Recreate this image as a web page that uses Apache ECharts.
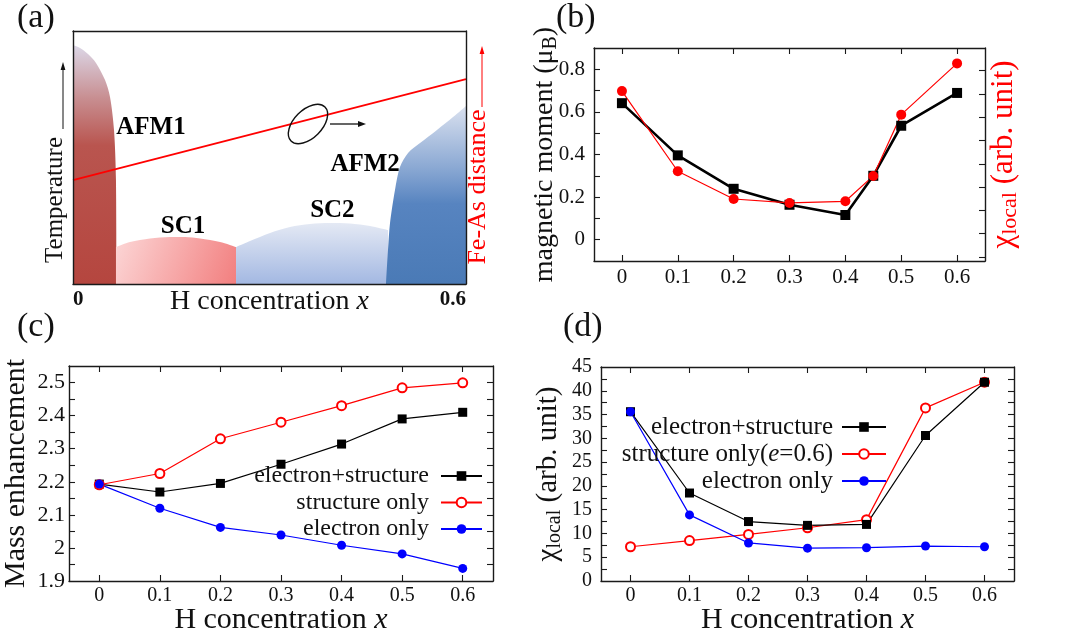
<!DOCTYPE html>
<html><head><meta charset="utf-8">
<script src="https://cdn.jsdelivr.net/npm/echarts@6/dist/echarts.min.js"></script>
<style>html,body{margin:0;padding:0;background:#fff}#c{width:1073px;height:640px}</style>
</head><body><div id="c"></div>
<script>
// ---------- Panel (a): schematic phase diagram (x = H concentration, y = relative temperature) ----------
const afm1X = [0, 0.0107, 0.0229, 0.0351, 0.0489, 0.0565, 0.0626, 0.0656, 0.0664];
const afm1Y = [0.945, 0.933, 0.909, 0.874, 0.806, 0.739, 0.609, 0.411, 0];
const sc1X = [0.0656, 0.087, 0.1176, 0.148, 0.1710, 0.1940, 0.2245, 0.2489];
const sc1Y = [0.146, 0.166, 0.180, 0.186, 0.186, 0.180, 0.166, 0.146];
const sc2X = [0.2489, 0.2702, 0.3008, 0.3313, 0.3618, 0.3924, 0.4229, 0.4534, 0.4809];
const sc2Y = [0.146, 0.170, 0.202, 0.225, 0.237, 0.241, 0.239, 0.229, 0.213];
const afm2X = [0.4779, 0.4809, 0.4840, 0.4916, 0.4992, 0.5115, 0.5298, 0.5557, 0.5802, 0.6];
const afm2Y = [0, 0.134, 0.241, 0.372, 0.462, 0.518, 0.557, 0.609, 0.660, 0.704];
const feAsX = [0, 0.6];
const feAsY = [0.411, 0.810];
const phaseNames = ['AFM1', 'SC1', 'SC2', 'AFM2'];
const phaseX = [0.119, 0.168, 0.396, 0.446];
const phaseY = [0.617, 0.227, 0.289, 0.474];

// ---------- Panel (b) ----------
const xB = [0, 0.1, 0.2, 0.3, 0.4, 0.45, 0.5, 0.6];
const momentB = [0.641, 0.396, 0.239, 0.164, 0.116, 0.30, 0.535, 0.689];
const chiLocalB = [7.12, 3.68, 2.49, 2.32, 2.39, 3.48, 6.11, 8.31];

// ---------- Panel (c) ----------
const xC = [0, 0.1, 0.2, 0.3, 0.4, 0.5, 0.6];
const massElecStruct = [2.193, 2.169, 2.195, 2.253, 2.314, 2.390, 2.410];
const massStruct = [2.191, 2.225, 2.330, 2.380, 2.430, 2.484, 2.499];
const massElec = [2.193, 2.120, 2.062, 2.039, 2.008, 1.982, 1.938];

// ---------- Panel (d) ----------
const xD = [0, 0.1, 0.2, 0.3, 0.4, 0.5, 0.6];
const chiElecStruct = [35.6, 18.5, 12.5, 11.7, 11.9, 30.6, 41.8];
const chiStruct = [7.2, 8.5, 9.8, 11.2, 12.9, 36.4, 41.8];
const chiElec = [35.6, 13.9, 8.0, 6.9, 7.0, 7.35, 7.2];

// ---------- tick values ----------
const xTicks = [0, 0.1, 0.2, 0.3, 0.4, 0.5, 0.6];
const aTicks = [0, 0.6];
const bYLabels = [0, 0.2, 0.4, 0.6, 0.8];
const bYTicks = [0, 0.1, 0.2, 0.3, 0.4, 0.5, 0.6, 0.7, 0.8];
const bRTicks = [0, 1, 2, 3, 4, 5, 6, 7, 8];
const cYLabels = [1.9, 2.0, 2.1, 2.2, 2.3, 2.4, 2.5];
const cYTicks = [1.95, 2.0, 2.05, 2.1, 2.15, 2.2, 2.25, 2.3, 2.35, 2.4, 2.45, 2.5];
const dYLabels = [0, 5, 10, 15, 20, 25, 30, 35, 40, 45];
const dYTicks = [2.5, 5, 7.5, 10, 12.5, 15, 17.5, 20, 22.5, 25, 27.5, 30, 32.5, 35, 37.5, 40, 42.5];

const serif = '"Liberation Serif", "DejaVu Serif", serif';
const zip = (xs, ys) => xs.map((x, i) => [x, ys[i]]);
const fmt = v => String(+(+v).toFixed(2));
const lineCol = '#1a1a1a';

function axis(o) {
  return {
    type: 'value', gridIndex: o.grid, position: o.pos, min: o.min, max: o.max, z: 10,
    axisLine: { show: true, onZero: false, lineStyle: { color: lineCol, width: 1.4 } },
    splitLine: { show: false },
    axisTick: o.ticks ? { show: true, inside: true, length: 6, customValues: o.ticks, lineStyle: { color: lineCol, width: 1.1 } } : { show: false },
    axisLabel: o.labels ? { show: true, customValues: o.labels, formatter: fmt, fontFamily: serif, fontSize: o.fs || 20, color: '#111', margin: o.margin, fontWeight: o.bold ? 'bold' : 'normal', alignMinLabel: o.alignMin, alignMaxLabel: o.alignMax } : { show: false },
    name: o.name || '', nameLocation: 'middle', nameGap: o.nameGap || 0, nameMoveOverlap: false, nameTextStyle: o.nameStyle || {}
  };
}

function rich(fs, color) {
  return {
    n: { fontFamily: serif, fontSize: fs, color: color, lineHeight: fs + 4 },
    i: { fontFamily: serif, fontSize: fs, color: color, fontStyle: 'italic', lineHeight: fs + 4 },
    s: { fontFamily: serif, fontSize: Math.round(fs * 0.7), color: color, verticalAlign: 'bottom', lineHeight: Math.round(fs * 0.6) }
  };
}

const xAxis = [
  axis({ grid: 0, pos: 'bottom', min: 0, max: 0.6, labels: aTicks, fs: 21, bold: true, margin: 5, alignMin: 'left', alignMax: 'right',
         name: '{n|H concentration }{i|x}', nameGap: 2, nameStyle: { rich: rich(28, '#111') } }),
  axis({ grid: 0, pos: 'top', min: 0, max: 0.6 }),
  axis({ grid: 1, pos: 'bottom', min: -0.05, max: 0.65, labels: xTicks, ticks: xTicks, fs: 21, margin: 6 }),
  axis({ grid: 1, pos: 'top', min: -0.05, max: 0.65, ticks: xTicks }),
  axis({ grid: 2, pos: 'bottom', min: -0.05, max: 0.65, labels: xTicks, ticks: xTicks, fs: 20, margin: 5,
         name: '{n|H concentration }{i|x}', nameGap: 22, nameStyle: { rich: rich(30, '#111') } }),
  axis({ grid: 2, pos: 'top', min: -0.05, max: 0.65, ticks: xTicks }),
  axis({ grid: 3, pos: 'bottom', min: -0.05, max: 0.65, labels: xTicks, ticks: xTicks, fs: 20, margin: 5,
         name: '{n|H concentration }{i|x}', nameGap: 22, nameStyle: { rich: rich(30, '#111') } }),
  axis({ grid: 3, pos: 'top', min: -0.05, max: 0.65, ticks: xTicks })
];
const yAxis = [
  axis({ grid: 0, pos: 'left', min: 0, max: 1 }),
  axis({ grid: 0, pos: 'right', min: 0, max: 1 }),
  axis({ grid: 1, pos: 'left', min: -0.1, max: 0.9, labels: bYLabels, ticks: bYTicks, fs: 21, margin: 9,
         name: '{n|magnetic moment (μ}{s|B}{n|)}', nameGap: 33, nameStyle: { rich: rich(28, '#111') } }),
  axis({ grid: 1, pos: 'right', min: -0.172, max: 8.97, ticks: bRTicks,
         name: '{n|χ}{s|local}{n| (arb. unit)}', nameGap: 1, nameStyle: { rich: rich(31, '#ff0000') } }),
  axis({ grid: 2, pos: 'left', min: 1.9, max: 2.55, labels: cYLabels, ticks: cYTicks, fs: 22, margin: 4,
         name: '{n|Mass enhancement}', nameGap: 36, nameStyle: { rich: rich(30, '#111') } }),
  axis({ grid: 2, pos: 'right', min: 1.9, max: 2.55, ticks: cYTicks }),
  axis({ grid: 3, pos: 'left', min: 0, max: 45, labels: dYLabels, ticks: dYTicks, fs: 20, margin: 9,
         name: '{n|χ}{s|local}{n| (arb. unit)}', nameGap: 36, nameStyle: { rich: rich(29, '#111') } }),
  axis({ grid: 3, pos: 'right', min: 0, max: 45, ticks: dYTicks })
];

function region(name, xs, ys, grad) {
  return { type: 'line', name: name, xAxisIndex: 0, yAxisIndex: 0, data: zip(xs, ys), symbol: 'none', smooth: 0.3,
           lineStyle: { width: 0 }, areaStyle: { color: grad, opacity: 1 }, silent: true, z: 1 };
}
const lg = (x2, y2, stops) => ({ type: 'linear', x: 0, y: 0, x2: x2, y2: y2, colorStops: stops.map(s => ({ offset: s[0], color: s[1] })) });

function dataSeries(name, xi, yi, xs, ys, color, symbol, size, width) {
  return { type: 'line', name: name, xAxisIndex: xi, yAxisIndex: yi, data: zip(xs, ys), symbol: symbol, symbolSize: size,
           showAllSymbol: true, lineStyle: { color: color, width: width }, itemStyle: { color: color, borderColor: color, borderWidth: symbol === 'emptyCircle' ? 1.3 : 0 }, z: 3 };
}

const series = [
  region('AFM1', afm1X, afm1Y, lg(0, 1, [[0, '#dcd8e8'], [0.22, '#c88f92'], [0.42, '#b9554f'], [1, '#b5463f']])),
  region('SC1', sc1X, sc1Y, lg(1, 1, [[0, '#fcd6d6'], [1, '#f27f7f']])),
  region('SC2', sc2X, sc2Y, lg(0, 1, [[0, '#e4e9f4'], [1, '#a3b8e2']])),
  region('AFM2', afm2X, afm2Y, lg(0, 1, [[0, '#dae1ef'], [0.35, '#8aa8d3'], [0.55, '#5784c0'], [1, '#4a7ab6']])),
  { type: 'line', name: 'Fe-As', xAxisIndex: 0, yAxisIndex: 0, data: zip(feAsX, feAsY), symbol: 'none', lineStyle: { color: '#ff0000', width: 1.8 }, z: 4, silent: true },
  { type: 'scatter', name: 'phases', xAxisIndex: 0, yAxisIndex: 0, symbolSize: 0, itemStyle: { color: '#000' }, z: 5, silent: true,
    data: phaseNames.map((n, i) => ({ name: n, value: [phaseX[i], phaseY[i]] })),
    label: { show: true, position: 'inside', formatter: '{b}', fontFamily: serif, fontWeight: 'bold', fontSize: 25, color: '#000', textBorderWidth: 0, opacity: 1 } },

  dataSeries('moment', 2, 2, xB, momentB, '#000', 'rect', 10, 2.6),
  dataSeries('chiLocal', 2, 3, xB, chiLocalB, '#ff0000', 'circle', 10, 1.2),

  dataSeries('electron+structure', 4, 4, xC, massElecStruct, '#000', 'rect', 9, 1.2),
  dataSeries('structure only', 4, 4, xC, massStruct, '#ff0000', 'emptyCircle', 9, 1.2),
  dataSeries('electron only', 4, 4, xC, massElec, '#0000ff', 'circle', 9, 1.2),

  dataSeries('structure only(e=0.6)', 6, 6, xD, chiStruct, '#ff0000', 'emptyCircle', 9, 1.2),
  dataSeries('electron+structure', 6, 6, xD, chiElecStruct, '#000', 'rect', 9, 1.2),
  dataSeries('electron only', 6, 6, xD, chiElec, '#0000ff', 'circle', 9, 1.2)
];

const legendText = (fs, pad) => ({ fontFamily: serif, fontSize: fs, color: '#111', lineHeight: fs, padding: [0, pad, 0, 0],
  rich: { n: { fontFamily: serif, fontSize: fs, color: '#111' }, i: { fontFamily: serif, fontSize: fs, color: '#111', fontStyle: 'italic' } } });

const option = {
  animation: false,
  backgroundColor: '#fff',
  textStyle: { fontFamily: serif },
  grid: [
    { left: 73, top: 31, width: 393, height: 253 },
    { left: 594, top: 48, width: 391, height: 213 },
    { left: 69, top: 366, width: 424, height: 215 },
    { left: 601, top: 367, width: 413, height: 214 }
  ],
  xAxis: xAxis,
  yAxis: yAxis,
  legend: [
    { orient: 'vertical', align: 'right', right: 590, top: 464, padding: 0, itemWidth: 41, itemHeight: 12, itemGap: 2.5, selectedMode: false,
      data: ['electron+structure', 'structure only', 'electron only'], textStyle: legendText(24, 7) },
    { orient: 'vertical', align: 'right', right: 186, top: 414.5, padding: 0, itemWidth: 44, itemHeight: 12, itemGap: 2, selectedMode: false,
      data: ['electron+structure', 'structure only(e=0.6)', 'electron only'], textStyle: legendText(25, 4),
      formatter: n => n === 'structure only(e=0.6)' ? '{n|structure only(}{i|e}{n|=0.6)}' : '{n|' + n + '}' }
  ],
  series: series,
  graphic: [
    { type: 'text', x: 17, y: 18, z: 100, style: { text: '(a)', fontFamily: serif, fontSize: 34, fill: '#111', align: 'left', verticalAlign: 'middle' } },
    { type: 'text', x: 556, y: 18, z: 100, style: { text: '(b)', fontFamily: serif, fontSize: 34, fill: '#111', align: 'left', verticalAlign: 'middle' } },
    { type: 'text', x: 17, y: 327, z: 100, style: { text: '(c)', fontFamily: serif, fontSize: 34, fill: '#111', align: 'left', verticalAlign: 'middle' } },
    { type: 'text', x: 563, y: 327, z: 100, style: { text: '(d)', fontFamily: serif, fontSize: 34, fill: '#111', align: 'left', verticalAlign: 'middle' } },
    // (a) temperature axis label with arrow
    { type: 'text', x: 55, y: 200, rotation: Math.PI / 2, z: 100, style: { text: 'Temperature', fontFamily: serif, fontSize: 25, fill: '#111', align: 'center', verticalAlign: 'middle' } },
    { type: 'line', z: 100, shape: { x1: 63, y1: 129, x2: 63, y2: 68 }, style: { stroke: '#111', lineWidth: 1 } },
    { type: 'polygon', z: 100, shape: { points: [[63, 62], [60.6, 70], [65.4, 70]] }, style: { fill: '#111' } },
    // (a) Fe-As distance label with arrow
    { type: 'text', x: 478, y: 187, rotation: Math.PI / 2, z: 100, style: { text: 'Fe-As distance', fontFamily: serif, fontSize: 26, fill: '#ff0000', align: 'center', verticalAlign: 'middle' } },
    { type: 'line', z: 100, shape: { x1: 482, y1: 107, x2: 482, y2: 52 }, style: { stroke: '#ff0000', lineWidth: 1 } },
    { type: 'polygon', z: 100, shape: { points: [[482, 46], [479.6, 54], [484.4, 54]] }, style: { fill: '#ff0000' } },
    // (a) ellipse + arrow annotation
    { type: 'ellipse', z: 100, x: 308, y: 124, rotation: Math.PI / 4, shape: { cx: 0, cy: 0, rx: 24, ry: 14 }, style: { fill: 'none', stroke: '#111', lineWidth: 1.4 } },
    { type: 'line', z: 100, shape: { x1: 330, y1: 124, x2: 360, y2: 124 }, style: { stroke: '#111', lineWidth: 1.3 } },
    { type: 'polygon', z: 100, shape: { points: [[366, 124], [358, 121], [358, 127]] }, style: { fill: '#111' } }
  ]
};

const chart = echarts.init(document.getElementById('c'), null, { renderer: 'canvas' });
chart.setOption(option);
</script>
</body></html>
